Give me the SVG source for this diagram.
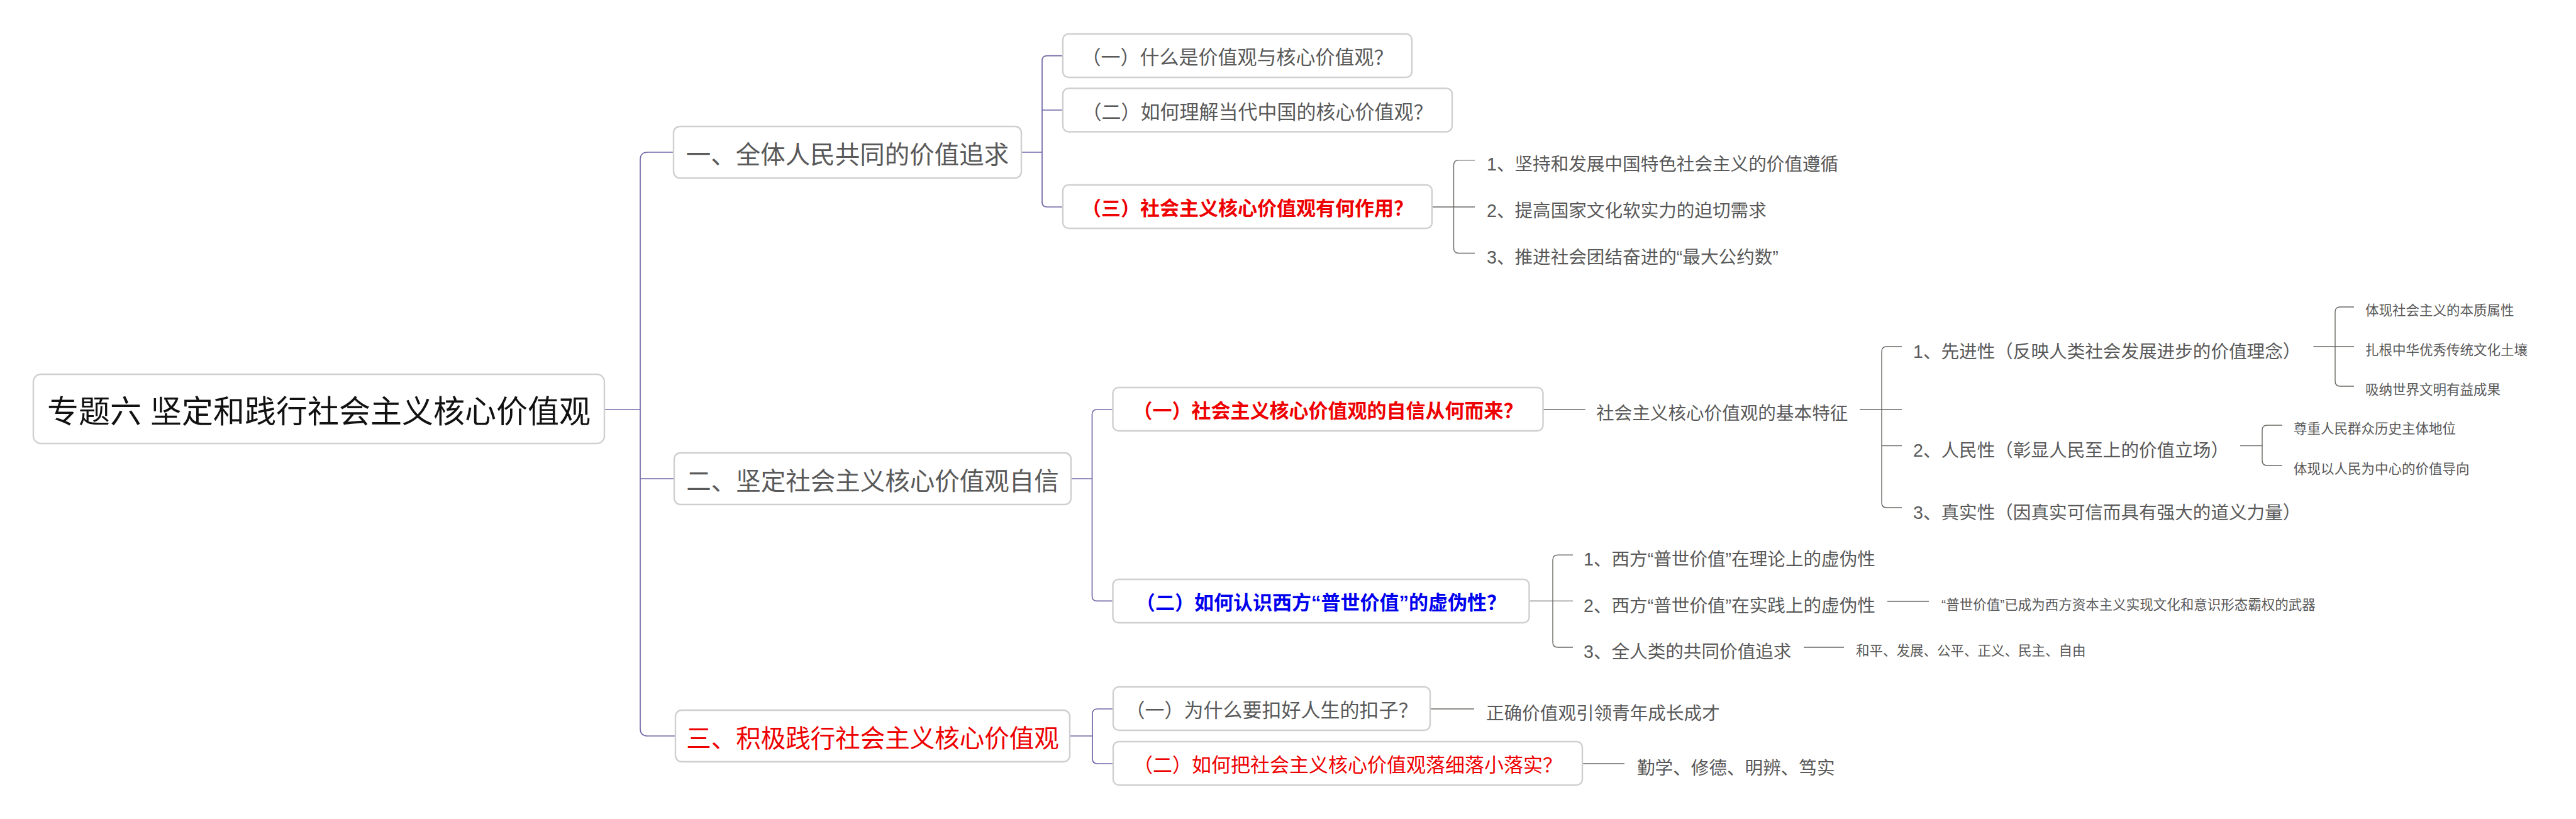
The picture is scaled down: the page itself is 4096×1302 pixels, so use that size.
<svg xmlns="http://www.w3.org/2000/svg" width="4096" height="1302" viewBox="0 0 4096 1302">
<style>
text{font-family:"Liberation Sans","Noto Sans CJK SC",sans-serif;dominant-baseline:central}
.box{fill:#fff;stroke:#cfcfcf;stroke-width:2.4}
.root{font-size:50px;fill:#111;text-anchor:middle}
.l1{font-size:39.5px;fill:#595959;text-anchor:middle}
.l2{font-size:31px;fill:#595959;text-anchor:middle}
.leaf{font-size:28.6px;fill:#595959}
.sm{font-size:21.5px;fill:#595959}
.red{fill:#ee0000}
.blue{fill:#0000ee}
.b{font-weight:bold}
.cp{fill:none;stroke:#6f68a6;stroke-width:1.7}
.cg{fill:none;stroke:#6b6864;stroke-width:1.4}
</style>
<rect width="4096" height="1302" fill="#fff"/>
<g id="connectors">
<path class="cp" d="M961,651 H1018 M1071,242 H1030 Q1018,242 1018,254 V1158 Q1018,1170 1030,1170 H1074 M1018,761 H1072"/>
<path class="cp" d="M1624,242 H1657 M1690,88.7 H1665 Q1657,88.7 1657,96.7 V321 Q1657,329 1665,329 H1690 M1657,175 H1690"/>
<path class="cp" d="M1703,761 H1736.5 M1769.5,651 H1744.5 Q1736.5,651 1736.5,659 V947.4 Q1736.5,955.4 1744.5,955.4 H1769.5"/>
<path class="cp" d="M1701,1170 H1737 M1770,1127 H1745 Q1737,1127 1737,1135 V1206 Q1737,1214 1745,1214 H1770"/>
<path class="cg" d="M2277,329 H2345 M2345,254.6 H2319.5 Q2311.5,254.6 2311.5,262.6 V394.5 Q2311.5,402.5 2319.5,402.5 H2345"/>
<path class="cg" d="M2453.5,651 H2520.6 M2957,651 H3024 M3024,551 H3000 Q2992,551 2992,559 V799 Q2992,807 3000,807 H3024 M2992,708.6 H3024"/>
<path class="cg" d="M3678.5,551 H3743 M3743,488 H3721 Q3713,488 3713,496 V606 Q3713,614 3721,614 H3743"/>
<path class="cg" d="M3562,708.6 H3597 M3629,676 H3605 Q3597,676 3597,684 V732 Q3597,740 3605,740 H3629"/>
<path class="cg" d="M2432.5,955.4 H2501 M2501,882.3 H2477 Q2469,882.3 2469,890.3 V1021 Q2469,1029 2477,1029 H2501"/>
<path class="cg" d="M3001,956 H3067 M2868,1029 H2932"/>
<path class="cg" d="M2274,1127 H2344 M2516,1214 H2583"/>
</g>
<g id="root"><rect class="box" x="53" y="595" width="908" height="110" rx="12"/><text class="root" x="507" y="655">专题六 坚定和践行社会主义核心价值观</text></g>
<g id="n1"><rect class="box" x="1071" y="201" width="553" height="82" rx="10"/><text class="l1" x="1347.5" y="246">一、全体人民共同的价值追求</text></g>
<g id="n2"><rect class="box" x="1072" y="720" width="631" height="82" rx="10"/><text class="l1" x="1387.5" y="765">二、坚定社会主义核心价值观自信</text></g>
<g id="n3"><rect class="box" x="1074" y="1129" width="627" height="82" rx="10"/><text class="l1 red" x="1387.5" y="1174">三、积极践行社会主义核心价值观</text></g>
<g id="s1a"><rect class="box" x="1690" y="54" width="555" height="69" rx="9"/><text class="l2" x="1967.5" y="91.5">（一）什么是价值观与核心价值观？</text></g>
<g id="s1b"><rect class="box" x="1690" y="140.5" width="619" height="69" rx="9"/><text class="l2" x="1999.5" y="178">（二）如何理解当代中国的核心价值观？</text></g>
<g id="s1c"><rect class="box" x="1690" y="294" width="587" height="69" rx="9"/><text class="l2 red b" x="1983.5" y="331.5">（三）社会主义核心价值观有何作用？</text></g>
<g id="s2a"><rect class="box" x="1769.5" y="616" width="684" height="69" rx="9"/><text class="l2 red b" x="2111.5" y="653.5">（一）社会主义核心价值观的自信从何而来？</text></g>
<g id="s2b"><rect class="box" x="1769.5" y="921" width="662" height="69" rx="9"/><text class="l2 blue b" x="2100.5" y="958.5">（二）如何认识西方“普世价值”的虚伪性？</text></g>
<g id="s3a"><rect class="box" x="1770" y="1092" width="504" height="69" rx="9"/><text class="l2" x="2022" y="1129.5">（一）为什么要扣好人生的扣子？</text></g>
<g id="s3b"><rect class="box" x="1770" y="1179" width="746" height="69" rx="9"/><text class="l2 red" x="2143" y="1216.5">（二）如何把社会主义核心价值观落细落小落实？</text></g>
<g id="c1"><text class="leaf" x="2364" y="261">1、坚持和发展中国特色社会主义的价值遵循</text></g>
<g id="c2"><text class="leaf" x="2364" y="335">2、提高国家文化软实力的迫切需求</text></g>
<g id="c3"><text class="leaf" x="2364" y="409">3、推进社会团结奋进的“最大公约数”</text></g>
<g id="f0"><text class="leaf" x="2538" y="657">社会主义核心价值观的基本特征</text></g>
<g id="t1"><text class="leaf" x="3042" y="559">1、先进性（反映人类社会发展进步的价值理念）</text></g>
<g id="t2"><text class="leaf" x="3042" y="716">2、人民性（彰显人民至上的价值立场）</text></g>
<g id="t3"><text class="leaf" x="3042" y="815">3、真实性（因真实可信而具有强大的道义力量）</text></g>
<g id="t1a"><text class="sm" x="3761" y="494">体现社会主义的本质属性</text></g>
<g id="t1b"><text class="sm" x="3761" y="557">扎根中华优秀传统文化土壤</text></g>
<g id="t1c"><text class="sm" x="3761" y="620">吸纳世界文明有益成果</text></g>
<g id="t2a"><text class="sm" x="3647" y="682">尊重人民群众历史主体地位</text></g>
<g id="t2b"><text class="sm" x="3647" y="746">体现以人民为中心的价值导向</text></g>
<g id="u1"><text class="leaf" x="2518" y="889">1、西方“普世价值”在理论上的虚伪性</text></g>
<g id="u2"><text class="leaf" x="2518" y="963">2、西方“普世价值”在实践上的虚伪性</text></g>
<g id="u3"><text class="leaf" x="2518" y="1036">3、全人类的共同价值追求</text></g>
<g id="u2a"><text class="sm" x="3087" y="962">“普世价值”已成为西方资本主义实现文化和意识形态霸权的武器</text></g>
<g id="u3a"><text class="sm" x="2951" y="1035">和平、发展、公平、正义、民主、自由</text></g>
<g id="v1"><text class="leaf" x="2363" y="1134">正确价值观引领青年成长成才</text></g>
<g id="v2"><text class="leaf" x="2603" y="1221">勤学、修德、明辨、笃实</text></g>
</svg>
